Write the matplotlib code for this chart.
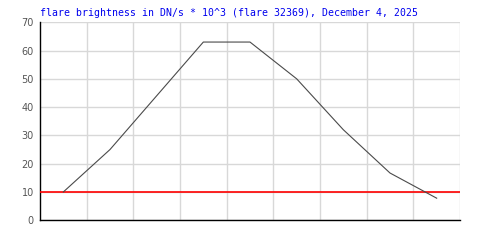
import numpy as np
import matplotlib.pyplot as plt

# flare brightness samples (DN/s * 10^3)
slots = [0.5, 1.5, 2.5, 3.5, 4.5, 5.5, 6.5, 7.5, 8.5]
brightness = [10, 25, 44, 63, 63, 50, 32, 16.7, 7.8]
threshold = 10
yticks = [0, 10, 20, 30, 40, 50, 60, 70]
xgrid = [1, 2, 3, 4, 5, 6, 7, 8, 9]

fig = plt.figure(figsize=(5, 2.5), dpi=100)
ax = fig.add_axes([0.08, 0.119, 0.84, 0.792])

ax.set_xlim(0, 9)
ax.set_ylim(0, 70)
ax.set_yticks(yticks)
ax.set_xticks(xgrid)
ax.set_xticklabels([])
ax.grid(True, color='#d8d8d8', linewidth=1)
ax.set_axisbelow(True)

ax.axhline(threshold, color='#ff0000', linewidth=1.2, zorder=3)
ax.plot(slots, brightness, color='#4a4a4a', linewidth=0.8, zorder=4)

for s in ['top', 'right']:
    ax.spines[s].set_visible(False)
for s in ['left', 'bottom']:
    ax.spines[s].set_color('black')
    ax.spines[s].set_linewidth(1.0)

ax.tick_params(axis='both', length=0)
ax.tick_params(axis='y', pad=4.5, labelsize=7, labelcolor='#555555')

fig.text(0.08, 1 - 12.5 / 250, 'flare brightness in DN/s * 10^3 (flare 32369), December 4, 2025',
         color='#0000ee', fontsize=7.1, family='DejaVu Sans Mono', va='center', ha='left')

fig.savefig('out.png', dpi=100, facecolor='white')
